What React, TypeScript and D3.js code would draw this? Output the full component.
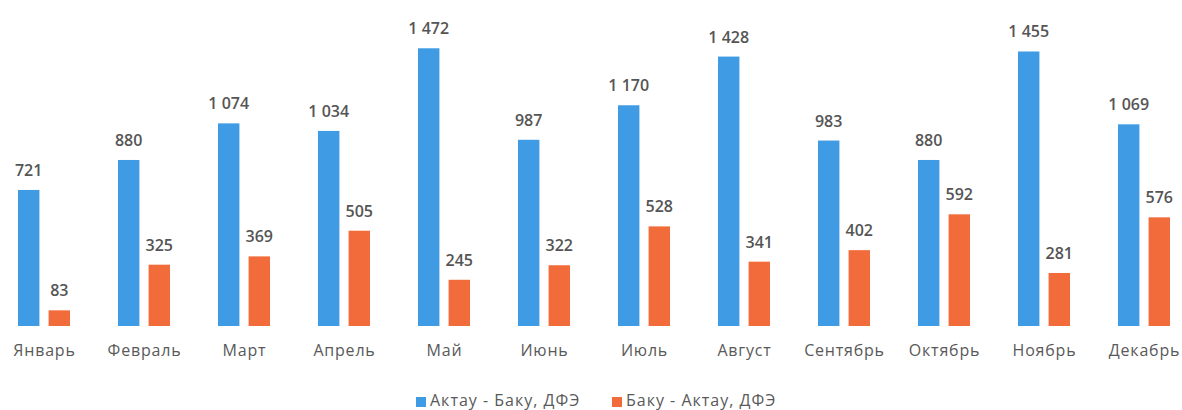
import React, { useRef, useEffect } from "react"
import * as d3 from "d3"

const months = ["Январь", "Февраль", "Март", "Апрель", "Май", "Июнь", "Июль", "Август", "Сентябрь", "Октябрь", "Ноябрь", "Декабрь"]
const seriesNames = ["Актау - Баку, ДФЭ", "Баку - Актау, ДФЭ"]
const aktauBaku = [721, 880, 1074, 1034, 1472, 987, 1170, 1428, 983, 880, 1455, 1069]
const bakuAktau = [83, 325, 369, 505, 245, 322, 528, 341, 402, 592, 281, 576]
const colors = ["#3f9be4", "#f26c3b"]

const width = 1182
const height = 410

const App = () => {
  const ref = useRef<SVGSVGElement>(null)

  useEffect(() => {
    const svg = d3.select(ref.current)
    svg.selectAll("*").remove()

    const x = d3.scaleBand().domain(months).range([-6, 1194]).paddingInner(0.48).paddingOuter(0.24)
    const xInner = d3.scaleBand().domain(seriesNames).range([0, x.bandwidth()]).paddingInner(0.3)
    const y = d3.scaleLinear().domain([0, 1500]).range([326, 43])

    const fmt = d3.formatLocale({ decimal: ",", thousands: " ", grouping: [3], currency: ["", ""] }).format(",d")
    const series = [aktauBaku, bakuAktau]

    series.forEach((vals, si) => {
      const g = svg.append("g")
      g.selectAll("rect")
        .data(vals)
        .enter()
        .append("rect")
        .attr("x", (d, i) => x(months[i])! + xInner(seriesNames[si])!)
        .attr("y", d => y(d))
        .attr("width", xInner.bandwidth())
        .attr("height", d => y(0) - y(d))
        .attr("fill", colors[si])
      g.selectAll("text")
        .data(vals)
        .enter()
        .append("text")
        .attr("x", (d, i) => x(months[i])! + xInner(seriesNames[si])! + xInner.bandwidth() / 2)
        .attr("y", d => y(d) - 14)
        .attr("text-anchor", "middle")
        .attr("font-family", "Open Sans")
        .attr("font-weight", 600)
        .attr("font-size", 16)
        .attr("fill", "#555")
        .text(d => fmt(d))
    })

    // month labels
    svg.append("g")
      .selectAll("text")
      .data(months)
      .enter()
      .append("text")
      .attr("x", d => x(d)! + x.bandwidth() / 2 + 0.5)
      .attr("y", 356)
      .attr("text-anchor", "middle")
      .attr("font-family", "Open Sans")
      .attr("font-size", 16)
      .attr("letter-spacing", 0.8)
      .attr("fill", "#595959")
      .text(d => d)

    // legend
    const legendX = [416, 612]
    const legend = svg.append("g")
    seriesNames.forEach((name, i) => {
      legend.append("rect")
        .attr("x", legendX[i])
        .attr("y", 397)
        .attr("width", 10)
        .attr("height", 10)
        .attr("fill", colors[i])
      legend.append("text")
        .attr("x", legendX[i] + 14)
        .attr("y", 406)
        .attr("font-family", "Open Sans")
        .attr("font-size", 16)
        .attr("letter-spacing", 1)
        .attr("fill", "#595959")
        .text(name)
    })
  }, [])

  return (
    <svg ref={ref} width={width} height={height} style={{ position: "absolute", left: 0, top: 0, background: "#fff" }} />
  )
}

export default App
